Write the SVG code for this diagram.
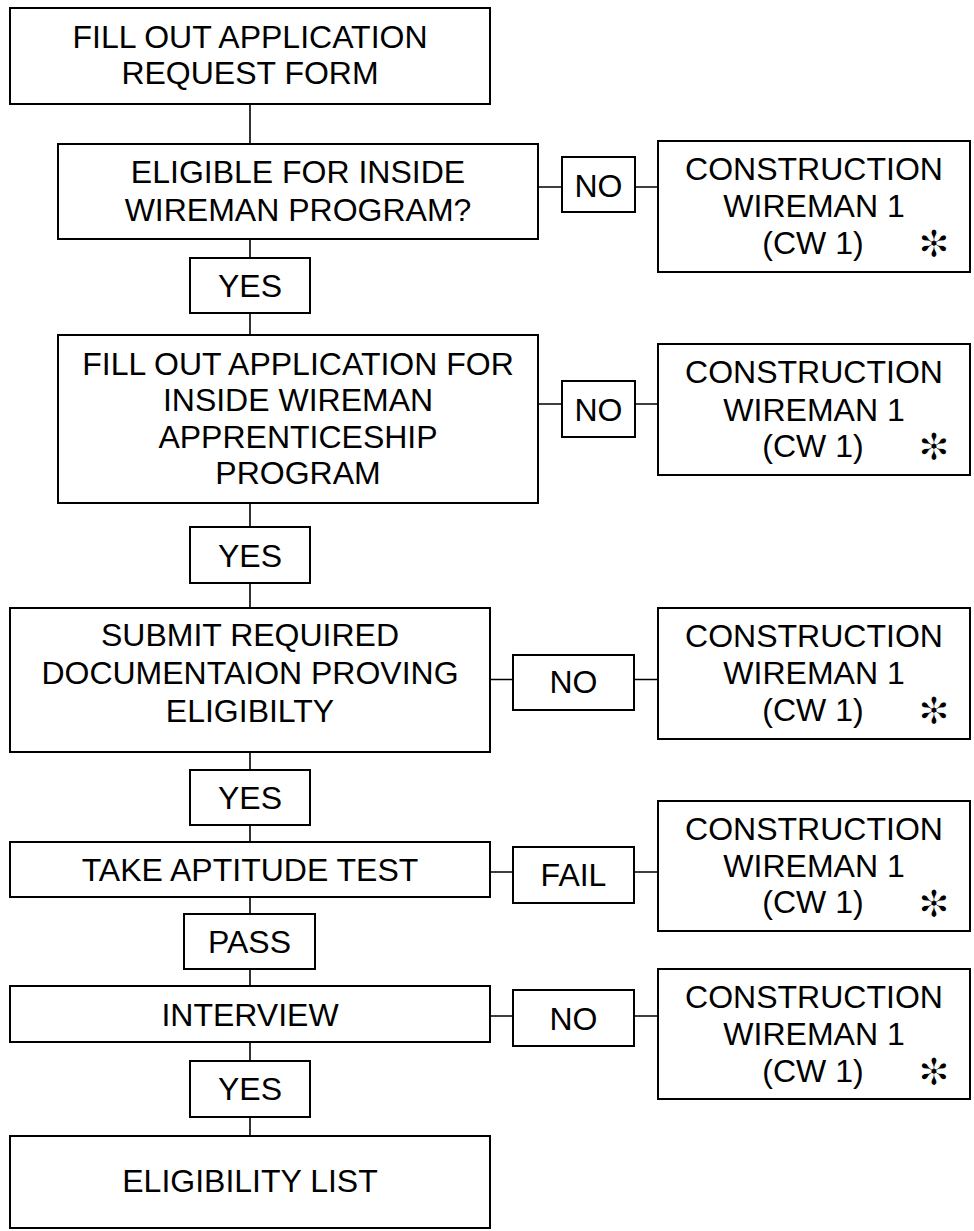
<svg xmlns="http://www.w3.org/2000/svg" width="974" height="1231" viewBox="0 0 974 1231">
<style>
.b{fill:#fff;stroke:#000;stroke-width:2}
.c{stroke:#000;stroke-width:1.6;fill:none}
text{font-family:"Liberation Sans",Arial,sans-serif;font-size:32px;fill:#000;text-anchor:middle}
.s{font-family:"DejaVu Sans",sans-serif;font-size:38px;stroke:#fff;stroke-width:1.3}
</style>
<rect width="974" height="1231" fill="#fff"/>
<g id="connectors">
<path class="c" d="M250 104V144M250 239V258M250 313V335M250 503V527M250 583V608M250 752V770M250 825V842M250 897V914M250 969V986M250 1042V1061M250 1117V1136"/>
<path class="c" d="M538 187H562M635 187H658M538 404H562M635 404H658M490 679.5H513M634 679.5H658M490 872H513M634 872H658M490 1016H513M634 1016H658"/>
</g>
<g id="n1"><rect class="b" x="10" y="8" width="480" height="96"/><text x="250" y="47.7">FILL OUT APPLICATION</text><text x="250" y="84.3">REQUEST FORM</text></g>
<g id="n2"><rect class="b" x="58" y="144" width="480" height="95"/><text x="298" y="182.7">ELIGIBLE FOR INSIDE</text><text x="298" y="220.7">WIREMAN PROGRAM?</text></g>
<g id="no1"><rect class="b" x="562" y="157" width="73" height="55"/><text x="598.5" y="196.5">NO</text></g>
<g id="cw1"><rect class="b" x="658" y="141" width="312" height="131"/><text x="814" y="180">CONSTRUCTION</text><text x="814" y="217">WIREMAN 1</text><text x="813" y="253.5">(CW 1)</text><text class="s" x="934" y="257">✻</text></g>
<g id="yes1"><rect class="b" x="190" y="258" width="120" height="55"/><text x="250" y="297">YES</text></g>
<g id="n3"><rect class="b" x="58" y="335" width="480" height="168"/><text x="298" y="375">FILL OUT APPLICATION FOR</text><text x="298" y="411.3">INSIDE WIREMAN</text><text x="298" y="447.7">APPRENTICESHIP</text><text x="298" y="484.3">PROGRAM</text></g>
<g id="no2"><rect class="b" x="562" y="381" width="73" height="56"/><text x="598.5" y="420.7">NO</text></g>
<g id="cw2"><rect class="b" x="658" y="344" width="312" height="131"/><text x="814" y="383.3">CONSTRUCTION</text><text x="814" y="420.7">WIREMAN 1</text><text x="813" y="456.5">(CW 1)</text><text class="s" x="934" y="460">✻</text></g>
<g id="yes2"><rect class="b" x="190" y="527" width="120" height="56"/><text x="250" y="566.5">YES</text></g>
<g id="n4"><rect class="b" x="10" y="608" width="480" height="144"/><text x="250" y="646">SUBMIT REQUIRED</text><text x="250" y="684.3">DOCUMENTAION PROVING</text><text x="250" y="721.7">ELIGIBILTY</text></g>
<g id="no3"><rect class="b" x="513" y="655" width="121" height="55"/><text x="573.5" y="692.5">NO</text></g>
<g id="cw3"><rect class="b" x="658" y="608" width="312" height="131"/><text x="814" y="646.7">CONSTRUCTION</text><text x="814" y="684">WIREMAN 1</text><text x="813" y="720.7">(CW 1)</text><text class="s" x="934" y="724">✻</text></g>
<g id="yes3"><rect class="b" x="190" y="770" width="120" height="55"/><text x="250" y="809.3">YES</text></g>
<g id="n5"><rect class="b" x="10" y="842" width="480" height="55"/><text x="250" y="881">TAKE APTITUDE TEST</text></g>
<g id="fail"><rect class="b" x="513" y="847" width="121" height="56"/><text x="573.5" y="886">FAIL</text></g>
<g id="cw4"><rect class="b" x="658" y="801" width="312" height="130"/><text x="814" y="840">CONSTRUCTION</text><text x="814" y="876.7">WIREMAN 1</text><text x="813" y="913.3">(CW 1)</text><text class="s" x="934" y="917">✻</text></g>
<g id="pass"><rect class="b" x="184" y="914" width="131" height="55"/><text x="249.5" y="953.3">PASS</text></g>
<g id="n6"><rect class="b" x="10" y="986" width="480" height="56"/><text x="250" y="1025.7">INTERVIEW</text></g>
<g id="no5"><rect class="b" x="513" y="990" width="121" height="56"/><text x="573.5" y="1029.5">NO</text></g>
<g id="cw5"><rect class="b" x="658" y="969" width="312" height="130"/><text x="814" y="1008">CONSTRUCTION</text><text x="814" y="1045">WIREMAN 1</text><text x="813" y="1081.5">(CW 1)</text><text class="s" x="934" y="1085">✻</text></g>
<g id="yes4"><rect class="b" x="190" y="1061" width="120" height="56"/><text x="250" y="1100">YES</text></g>
<g id="n7"><rect class="b" x="10" y="1136" width="480" height="92"/><text x="250" y="1192.3">ELIGIBILITY LIST</text></g>
</svg>
